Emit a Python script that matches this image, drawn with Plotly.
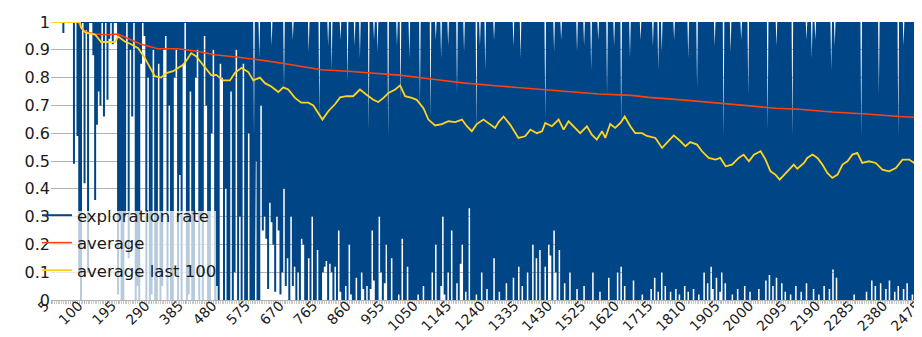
import plotly.graph_objects as go

# ---------------- data ----------------
# exploration rate, binned per 5 episodes: lowest and highest value in each bin
explore_ep = list(range(5, 2491, 5))
explore_lo = [
    1, 1, 1, 1, 1, 1, 1, 0.96, 1, 1, 1, 1, 1, 0.49, 1, 0.59, 0.1, 0, 1, 0.42,
    0.97, 0.1, 1, 1, 0.88, 0.36, 0.63, 0.75, 0.7, 1, 0.66, 1, 0.72, 0.94, 1, 0.92, 1, 1, 0.02, 0.3,
    0.0, 0.0, 0.3, 1, 0.15, 0.9, 0.66, 1, 0.0, 0.05, 0.0, 0.85, 1, 0.95, 0.0, 0.8, 0.0, 0.02, 0.9, 0.0,
    0.0, 0.85, 0.0, 0.05, 0.9, 0.95, 0.0, 0.7, 0.0, 0.0, 0.8, 0.9, 0.0, 0.45, 0.0, 0.85, 1, 0.0, 0.02, 0.75,
    0.0, 0.0, 0.8, 0.9, 0.0, 0.3, 0.0, 0.95, 0.7, 0.0, 0.0, 0.6, 0.9, 0.0, 0.05, 0.0, 0.85, 0.8, 0.0, 0.4,
    0.0, 0.0, 0.75, 0.0, 0.1, 0.9, 0.0, 0.3, 0.0, 0.85, 0.0, 0.0, 0.6, 0.0, 0.0, 0.0, 0.5, 0.0, 0.0, 0.7,
    0.25, 0.3, 0.22, 0.04, 0.35, 0.28, 0.2, 0.03, 0.3, 0.25, 0.02, 0.1, 0.4, 0.05, 0.15, 0.0, 0.3, 0.05, 0.12, 0.0,
    0.1, 0.0, 0.22, 0.2, 0.0, 0.0, 0.15, 0.0, 0.3, 0.0, 0.0, 0.18, 0.0, 0.0, 0.1, 0.12, 0.14, 0.0, 0.13, 0.1,
    0.0, 0.12, 0.0, 0.25, 0.03, 0.0, 0.0, 0.05, 0.0, 0.2, 0.02, 0.0, 0.0, 0.08, 0.0, 0.0, 0.1, 0.04, 0.0, 0.05,
    0.0, 0.04, 0.25, 0.07, 0.0, 0.0, 0.3, 0.1, 0.0, 0.06, 0.2, 0.0, 0.0, 0.15, 0.0, 0.0, 0.0, 0.02, 0.0, 0.22,
    0.0, 0.0, 0.12, 0.0, 0.0, 0.0, 0.0, 0.0, 0.02, 0.0, 0.0, 0.05, 0.0, 0.0, 0.0, 0.0, 0.1, 0.0, 0.2, 0.0,
    0.0, 0.05, 0.3, 0.02, 0.0, 0.1, 0.0, 0.25, 0.0, 0.0, 0.06, 0.0, 0.13, 0.2, 0.0, 0.03, 0.0, 0.33, 0.0, 0.0,
    0.0, 0.02, 0.0, 0.0, 0.1, 0.0, 0.0, 0.04, 0.0, 0.0, 0.0, 0.15, 0.0, 0.0, 0.03, 0.0, 0.0, 0.0, 0.06, 0.0,
    0.0, 0.0, 0.08, 0.0, 0.0, 0.12, 0.0, 0.05, 0.0, 0.0, 0.1, 0.0, 0.0, 0.2, 0.0, 0.15, 0.0, 0.18, 0.0, 0.0,
    0.12, 0.0, 0.2, 0.16, 0.0, 0.25, 0.1, 0.0, 0.18, 0.0, 0.0, 0.06, 0.0, 0.0, 0.1, 0.0, 0.0, 0.0, 0.04, 0.0,
    0.0, 0.0, 0.05, 0.0, 0.0, 0.0, 0.0, 0.1, 0.0, 0.0, 0.0, 0.03, 0.0, 0.0, 0.0, 0.0, 0.08, 0.0, 0.0, 0.0,
    0.0, 0.1, 0.0, 0.12, 0.0, 0.05, 0.0, 0.0, 0.0, 0.0, 0.07, 0.0, 0.0, 0.0, 0.0, 0.02, 0.0, 0.0, 0.0, 0.0,
    0.04, 0.0, 0.08, 0.0, 0.03, 0.0, 0.1, 0.0, 0.05, 0.0, 0.0, 0.03, 0.0, 0.0, 0.04, 0.0, 0.02, 0.0, 0.0, 0.05,
    0.0, 0.03, 0.0, 0.0, 0.04, 0.0, 0.0, 0.02, 0.0, 0.0, 0.1, 0.0, 0.06, 0.0, 0.12, 0.04, 0.0, 0.08, 0.0, 0.03,
    0.1, 0.0, 0.06, 0.0, 0.0, 0.0, 0.02, 0.0, 0.0, 0.04, 0.0, 0.0, 0.0, 0.05, 0.0, 0.0, 0.03, 0.0, 0.0, 0.0,
    0.0, 0.04, 0.0, 0.0, 0.0, 0.07, 0.0, 0.09, 0.0, 0.05, 0.0, 0.08, 0.0, 0.0, 0.06, 0.0, 0.03, 0.0, 0.0, 0.02,
    0.0, 0.0, 0.05, 0.0, 0.0, 0.03, 0.0, 0.0, 0.06, 0.0, 0.0, 0.0, 0.04, 0.0, 0.0, 0.02, 0.0, 0.0, 0.05, 0.0,
    0.0, 0.04, 0.0, 0.11, 0.0, 0.08, 0.0, 0.0, 0.0, 0.0, 0.0, 0.0, 0.0, 0.0, 0.0, 0.02, 0.0, 0.0, 0.0, 0.0,
    0.0, 0.0, 0.03, 0.0, 0.0, 0.07, 0.0, 0.05, 0.0, 0.0, 0.06, 0.0, 0.0, 0.04, 0.0, 0.07, 0.0, 0.0, 0.03, 0.0,
    0.05, 0.0, 0.0, 0.04, 0.0, 0.06, 0.0, 0.0, 0.02, 0.0, 0.07, 0.0, 0.0, 0.03, 0.0, 0.0, 0.05, 0.0,
]
explore_hi = [
    1, 1, 1, 1, 1, 1, 1, 1, 1, 1, 1, 1, 1, 1, 1, 1, 1, 1, 1, 1,
    1, 1, 1, 1, 1, 1, 1, 1, 1, 1, 1, 1, 1, 1, 1, 1, 1, 1, 1, 1,
    1, 1, 1, 1, 1, 1, 1, 1, 1, 1, 1, 1, 1, 1, 1, 1, 1, 1, 1, 1,
    1, 1, 1, 1, 1, 1, 1, 1, 1, 1, 1, 1, 1, 1, 1, 1, 1, 1, 1, 1,
    1, 1, 1, 1, 1, 1, 1, 1, 1, 1, 1, 1, 1, 1, 1, 1, 1, 1, 1, 1,
    1, 1, 1, 1, 1, 1, 1, 1, 1, 1, 1, 1, 1, 1, 1, 0.05, 1, 1, 0.7, 1,
    1, 1, 1, 1, 1, 0.8, 1, 1, 1, 1, 1, 1, 0.45, 1, 1, 1, 1, 0.85, 1, 1,
    1, 1, 1, 1, 1, 1, 0.75, 1, 1, 1, 1, 1, 0.2, 1, 1, 1, 1, 0.8, 1, 0.6,
    1, 1, 1, 1, 0.85, 1, 1, 1, 0.5, 1, 1, 1, 0.8, 1, 1, 0.7, 1, 1, 1, 1,
    0.1, 1, 1, 0.85, 1, 0.75, 1, 1, 1, 1, 1, 0.05, 1, 1, 1, 1, 0.8, 1, 0.35, 1,
    1, 1, 1, 0.7, 1, 1, 1, 1, 1, 0.3, 1, 1, 1, 1, 1, 0.2, 1, 1, 0.85, 1,
    1, 0.7, 1, 1, 1, 0.8, 1, 1, 1, 1, 0.4, 1, 1, 1, 0.75, 1, 1, 1, 1, 1,
    1, 0.1, 1, 0.8, 1, 1, 0.6, 1, 1, 1, 1, 0.85, 1, 1, 1, 1, 1, 1, 1, 1,
    1, 1, 0.8, 1, 1, 1, 0.7, 1, 1, 1, 1, 1, 1, 1, 1, 1, 1, 1, 1, 1,
    0.2, 1, 1, 1, 1, 0.75, 1, 1, 1, 0.85, 1, 1, 1, 1, 1, 1, 1, 1, 0.75, 1,
    1, 1, 0.8, 1, 1, 1, 0.6, 1, 1, 1, 0.85, 1, 1, 1, 1, 0.4, 1, 1, 1, 0.8,
    1, 1, 1, 0.15, 1, 1, 1, 1, 0.7, 1, 1, 1, 1, 1, 0.85, 1, 1, 1, 1, 1,
    1, 0.8, 1, 1, 0.6, 1, 0.75, 1, 1, 1, 1, 1, 1, 0.85, 1, 1, 1, 1, 1, 1,
    1, 0.7, 1, 1, 1, 1, 0.45, 1, 1, 1, 1, 1, 1, 1, 1, 1, 0.8, 1, 1, 1,
    1, 0.05, 1, 1, 1, 0.75, 1, 1, 1, 1, 1, 0.85, 1, 1, 1, 0.4, 1, 1, 1, 1,
    1, 1, 1, 1, 1, 1, 0.1, 1, 1, 1, 1, 0.8, 1, 1, 1, 1, 1, 1, 1, 1,
    0.05, 1, 1, 1, 1, 1, 1, 1, 0.85, 1, 1, 0.7, 1, 0.85, 1, 1, 1, 1, 1, 1,
    1, 1, 0.6, 1, 0.8, 1, 1, 1, 1, 1, 1, 1, 1, 1, 1, 1, 1, 1, 1, 0.05,
    1, 1, 1, 1, 1, 1, 1, 1, 1, 0.4, 1, 1, 1, 1, 1, 1, 1, 1, 1, 1,
    0.05, 1, 1, 0.8, 1, 1, 1, 1, 1, 1, 1, 1, 1, 0.7, 1, 1, 0.85, 1,
]

# running average of all episodes so far
avg_ep = [5, 82, 90, 101, 129, 167, 195, 223, 260, 308, 365, 422, 469, 535, 611, 686,
          771, 847, 941, 998, 1093, 1178, 1273, 1366, 1462, 1556, 1650, 1698, 1792,
          1887, 1982, 2057, 2124, 2217, 2313, 2407, 2492]
avg_val = [1.0, 1.0, 0.98, 0.966, 0.957, 0.954, 0.957, 0.94, 0.92, 0.904, 0.904, 0.894,
           0.882, 0.873, 0.861, 0.846, 0.828, 0.823, 0.813, 0.808, 0.793, 0.78, 0.77,
           0.76, 0.75, 0.741, 0.736, 0.729, 0.72, 0.709, 0.70, 0.69, 0.686, 0.676,
           0.669, 0.66, 0.655]

# average of the last 100 episodes
last100_ep = [5, 87, 91, 101, 110, 130, 147, 187, 195, 214, 232, 252, 271, 285, 299, 317,
              331, 351, 365, 379, 388, 402, 416, 441, 459, 473, 493, 512, 526, 545, 564,
              578, 597, 611, 629, 649, 663, 677, 696, 714, 734, 748, 762, 774, 791, 810,
              824, 842, 861, 880, 898, 918, 932, 947, 961, 980, 994, 1008, 1027, 1041,
              1060, 1074, 1093, 1112, 1131, 1150, 1169, 1183, 1197, 1211, 1230, 1244,
              1263, 1273, 1287, 1306, 1329, 1348, 1363, 1381, 1396, 1405, 1424, 1443,
              1457, 1471, 1490, 1504, 1523, 1537, 1551, 1566, 1575, 1589, 1603, 1618,
              1630, 1646, 1660, 1679, 1693, 1717, 1736, 1750, 1769, 1788, 1802, 1816,
              1835, 1849, 1868, 1887, 1901, 1916, 1934, 1953, 1967, 1982, 1996, 2015,
              2029, 2043, 2057, 2069, 2086, 2100, 2109, 2119, 2138, 2147, 2162, 2176,
              2190, 2204, 2218, 2233, 2247, 2261, 2275, 2289, 2303, 2322, 2341, 2360,
              2379, 2398, 2417, 2436, 2450, 2464, 2478, 2492]
last100_val = [1.0, 1.0, 0.978, 0.964, 0.96, 0.955, 0.928, 0.928, 0.948, 0.93, 0.92, 0.906,
               0.87, 0.835, 0.805, 0.80, 0.816, 0.823, 0.835, 0.846, 0.86, 0.888, 0.877,
               0.835, 0.808, 0.81, 0.79, 0.79, 0.817, 0.835, 0.82, 0.79, 0.80, 0.78,
               0.768, 0.748, 0.765, 0.757, 0.727, 0.71, 0.71, 0.70, 0.673, 0.649, 0.68,
               0.705, 0.729, 0.733, 0.733, 0.757, 0.739, 0.72, 0.712, 0.727, 0.745, 0.757,
               0.772, 0.733, 0.727, 0.72, 0.69, 0.649, 0.628, 0.633, 0.643, 0.64, 0.649,
               0.625, 0.607, 0.633, 0.649, 0.637, 0.619, 0.64, 0.66, 0.63, 0.583, 0.589,
               0.613, 0.60, 0.607, 0.637, 0.625, 0.649, 0.613, 0.643, 0.619, 0.60, 0.625,
               0.595, 0.577, 0.607, 0.583, 0.633, 0.619, 0.637, 0.66, 0.625, 0.60, 0.60,
               0.59, 0.583, 0.547, 0.565, 0.592, 0.571, 0.553, 0.568, 0.559, 0.535, 0.511,
               0.505, 0.511, 0.481, 0.487, 0.511, 0.523, 0.499, 0.523, 0.535, 0.505, 0.463,
               0.451, 0.433, 0.457, 0.475, 0.487, 0.472, 0.493, 0.511, 0.523, 0.511, 0.487,
               0.457, 0.439, 0.451, 0.487, 0.499, 0.523, 0.529, 0.493, 0.499, 0.493, 0.469,
               0.463, 0.475, 0.505, 0.505, 0.493, 0.541, 0.505, 0.499]

tick_labels = list(range(5, 2476, 95))

# ---------------- build the exploration-rate path (down and up in every bin) ----------------
path_x, path_y = [], []
for ep, lo, hi in zip(explore_ep, explore_lo, explore_hi):
    path_x += [ep, ep, ep]
    path_y += [hi, lo, hi]

BLUE = "#004586"
RED = "#ff420e"
YELLOW = "#ffd320"
FONT = "DejaVu Sans"
TXT = "#1a1a1a"

fig = go.Figure()
fig.add_trace(go.Scatter(x=path_x, y=path_y, mode="lines", name="exploration rate",
                         legendgroup="g1",
                         line=dict(color=BLUE, width=2), hoverinfo="skip"))
fig.add_trace(go.Scatter(x=avg_ep, y=avg_val, mode="lines", name="average",
                         legendgroup="g2",
                         line=dict(color=RED, width=1.6)))
fig.add_trace(go.Scatter(x=last100_ep, y=last100_val, mode="lines", name="average last 100",
                         legendgroup="g3",
                         line=dict(color=YELLOW, width=1.8)))

fig.update_layout(
    width=922, height=337,
    margin=dict(l=43, r=1, t=14, b=45),
    paper_bgcolor="white", plot_bgcolor="white",
    font=dict(family=FONT, color=TXT),
    showlegend=True,
    legend=dict(x=-0.016, y=0.367, xanchor="left", yanchor="top",
                bgcolor="rgba(0,0,0,0)", borderwidth=0,
                font=dict(size=16.5, family=FONT, color=TXT),
                itemwidth=30, tracegroupgap=3),
    shapes=[dict(type="rect", xref="paper", yref="paper", x0=0, x1=0.188, y0=0, y1=0.32,
                 fillcolor="rgba(255,255,255,0.72)", line=dict(width=0), layer="above")],
)
fig.update_xaxes(
    range=[5, 2492], tickmode="array", tickvals=tick_labels,
    ticktext=[str(v) for v in tick_labels], tickangle=-45,
    tickfont=dict(size=14, family=FONT, color=TXT),
    ticklabelstandoff=-12, ticklabelshift=-6,
    showgrid=False, zeroline=False, showline=True, linecolor="#b3b3b3", linewidth=1,
    ticks="outside", ticklen=3, tickcolor="#b3b3b3",
    minor=dict(dtick=5, tick0=5, ticks="outside", ticklen=3, tickcolor="#c8c8c8", showgrid=False),
    automargin=False,
)
fig.update_yaxes(
    range=[0, 1], dtick=0.1, tickformat="~g",
    tickfont=dict(size=16, family=FONT, color=TXT),
    showgrid=True, gridcolor="#b3b3b3", gridwidth=1, zeroline=False,
    showline=False, ticks="", automargin=False,
)

fig.write_html("out.html")
